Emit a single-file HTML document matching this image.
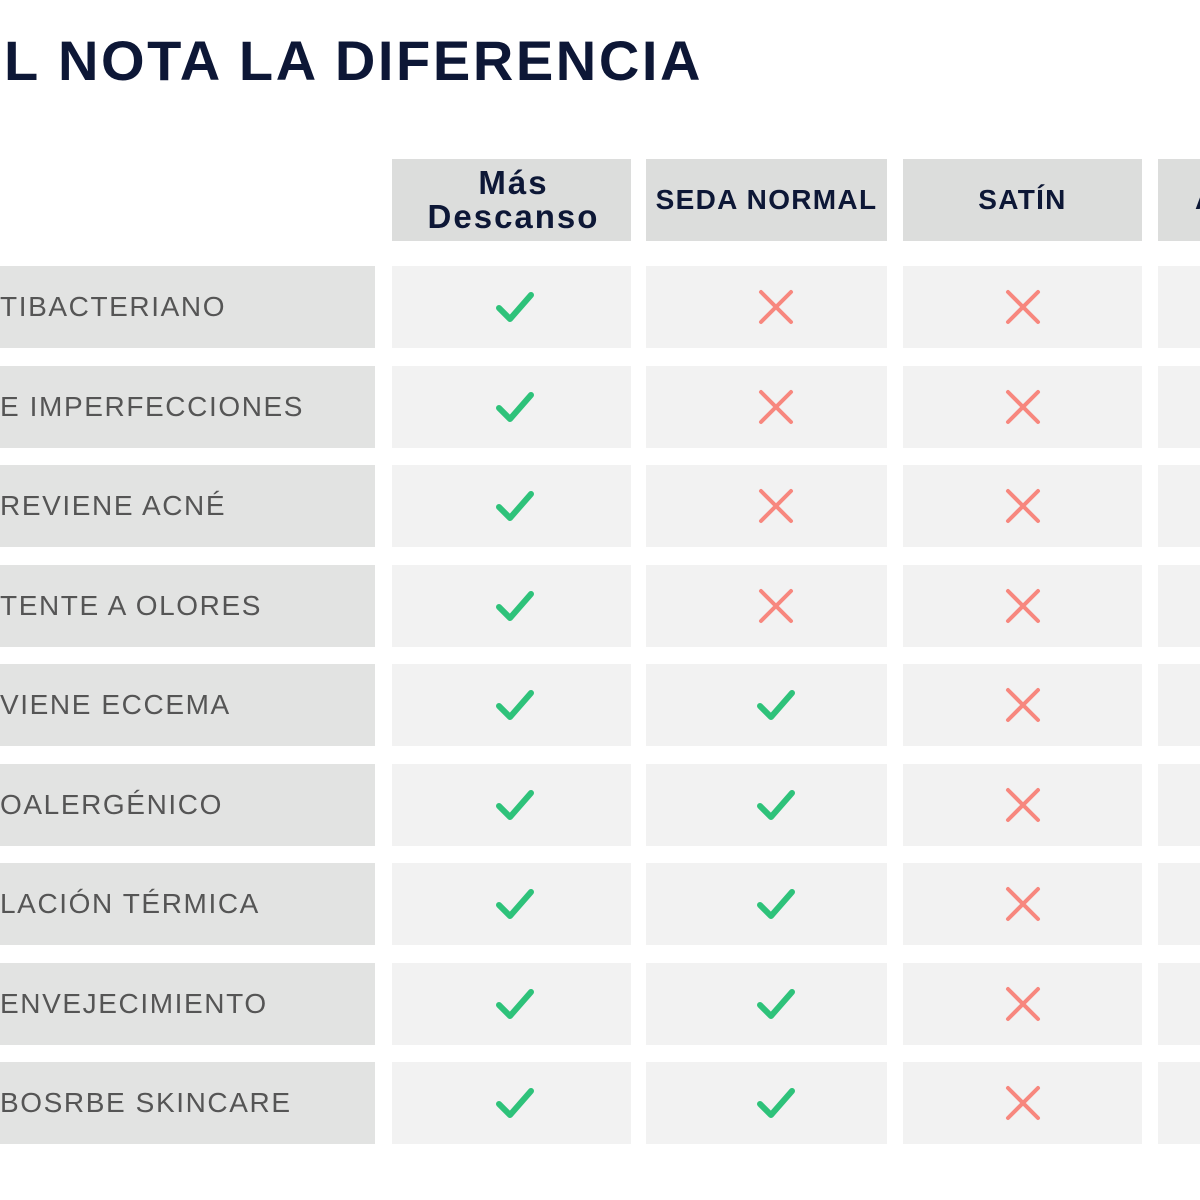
<!DOCTYPE html>
<html><head><meta charset="utf-8"><style>
body{margin:0;width:1200px;height:1200px;background:#fff;position:relative;overflow:hidden;font-family:"Liberation Sans",sans-serif}
.t{position:absolute;left:4px;top:28px;font-size:56px;font-weight:bold;color:#0d1736;letter-spacing:2.6px;white-space:nowrap}
.c{position:absolute;box-sizing:border-box;overflow:hidden}
.h{background:#dcdddc;color:#0d1736;font-weight:bold;font-size:28px;letter-spacing:1.3px;display:flex;align-items:center;justify-content:center;text-align:center;white-space:nowrap}
.l{background:#e2e3e2;color:#555;font-size:28px;letter-spacing:1.6px;display:flex;align-items:center;white-space:nowrap;padding-left:0}
.d{background:#f2f2f2;display:flex;align-items:center;justify-content:center}
</style></head><body>
<div class="t">L NOTA LA DIFERENCIA</div>
<div class="c h" style="left:392px;top:159px;width:239px;height:82px;line-height:34px;font-size:33px;letter-spacing:2px;padding-left:4px"><span>Más<br>Descanso</span></div>
<div class="c h" style="left:646px;top:159px;width:241px;height:82px">SEDA NORMAL</div>
<div class="c h" style="left:903px;top:159px;width:239px;height:82px">SATÍN</div>
<div class="c h" style="left:1158px;top:159px;width:42px;height:82px;justify-content:flex-start;padding-left:37px">A</div>
<div id="rows"></div>
<script>
var labels=["TIBACTERIANO","E IMPERFECCIONES","REVIENE ACNÉ","TENTE A OLORES","VIENE ECCEMA","OALERGÉNICO","LACIÓN TÉRMICA","ENVEJECIMIENTO","BOSRBE SKINCARE"];
var tops=[266,366,465,565,664,764,863,963,1062];
var chk='<svg width="40" height="36" viewBox="0 0 40 36"><path d="M4 19 L15 30 L36 6" fill="none" stroke="#2ec27a" stroke-width="6" stroke-linecap="round" stroke-linejoin="round"/></svg>';
var x='<svg width="38" height="36" viewBox="0 0 38 36"><path d="M4 3 L34 33 M34 3 L4 33" fill="none" stroke="#f7877e" stroke-width="4" stroke-linecap="round"/></svg>';
var h='';
for(var i=0;i<9;i++){var t=tops[i];
h+='<div class="c l" style="left:0;top:'+t+'px;width:375px;height:82px">'+labels[i]+'</div>';
h+='<div class="c d" style="left:392px;top:'+t+'px;width:239px;height:82px;padding-left:6px">'+chk+'</div>';
h+='<div class="c d" style="left:646px;top:'+t+'px;width:241px;height:82px;padding-left:18px">'+(i<4?x:chk)+'</div>';
h+='<div class="c d" style="left:903px;top:'+t+'px;width:239px;height:82px">'+x+'</div>';
h+='<div class="c d" style="left:1158px;top:'+t+'px;width:42px;height:82px"></div>';}
document.getElementById('rows').innerHTML=h;
</script>
</body></html>
